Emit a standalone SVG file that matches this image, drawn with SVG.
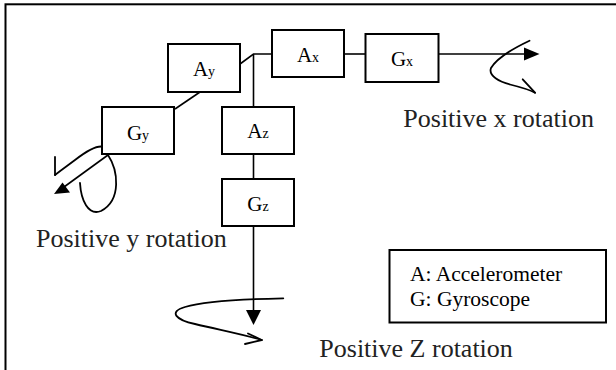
<svg xmlns="http://www.w3.org/2000/svg" width="616" height="370" viewBox="0 0 616 370">
<style>
.box{fill:#fff;stroke:#000;stroke-width:2}
.lbl{font-family:"Liberation Serif","Times New Roman",serif;font-size:21px;fill:#000;text-anchor:middle}
.sub{font-size:14px}
.big{font-family:"Liberation Serif","Times New Roman",serif;font-size:26px;fill:#222}
.leg{font-family:"Liberation Serif","Times New Roman",serif;font-size:21.5px;fill:#000}
.ln{fill:none;stroke:#000;stroke-width:1.6}
.cv{fill:none;stroke:#000;stroke-width:1.8;stroke-linecap:round;stroke-linejoin:round}
.ah{fill:#000}
</style>
<rect x="5.5" y="4.3" width="620" height="380" fill="#fff" stroke="#000" stroke-width="2"/>
<g id="connectors">
<polyline class="ln" points="240,64 253.5,54 272,54"/>
<line class="ln" x1="253.5" y1="54" x2="253.5" y2="107"/>
<line class="ln" x1="253.5" y1="154" x2="253.5" y2="179"/>
<line class="ln" x1="253.5" y1="226" x2="253.5" y2="312"/>
<polygon class="ah" points="246,310 261,310 253.5,325"/>
<line class="ln" x1="344" y1="54" x2="365" y2="54"/>
<line class="ln" x1="438" y1="54" x2="526" y2="54"/>
<polygon class="ah" points="524,47.5 524,60.5 539.5,54"/>
<line class="ln" x1="200" y1="92" x2="175" y2="109"/>
<line class="ln" x1="108" y1="155" x2="64" y2="187"/>
<polygon class="ah" points="54,194 62.5,182.5 70,192.5"/>
</g>
<g id="rot-x">
<path class="cv" d="M529.5,40.7 C514,48 497,58 491,68 C488,76 500,82 510,84.5 C520,87 530,90 535,92.7"/>
<line class="cv" x1="522.7" y1="79.3" x2="535" y2="92.7"/>
</g>
<g id="rot-y">
<path class="cv" d="M101.7,146.5 C94,146 84,153 75,160 C67,166 60,171 55,175"/>
<line class="cv" x1="55" y1="157" x2="55" y2="175"/>
<path class="cv" d="M108,155 C118,170 122,200 101,211 C88,216 81,200 80,183"/>
</g>
<g id="rot-z">
<path class="cv" d="M283.3,298.3 C250,299 205,301 185,307 C168,312 176,320 195,324 C220,330 245,335 261.7,340"/>
<line class="cv" x1="248" y1="333.5" x2="261.7" y2="340"/>
<line class="cv" x1="261.7" y1="340" x2="245" y2="344"/>
</g>
<g id="Ay"><rect class="box" x="168" y="44" width="72" height="48"/><text class="lbl" x="204" y="76">A<tspan class="sub">y</tspan></text></g>
<g id="Gy"><rect class="box" x="102" y="107" width="72" height="47"/><text class="lbl" x="138" y="140">G<tspan class="sub">y</tspan></text></g>
<g id="Az"><rect class="box" x="222" y="107" width="72" height="47"/><text class="lbl" x="258" y="138">A<tspan class="sub">z</tspan></text></g>
<g id="Gz"><rect class="box" x="222" y="179" width="72" height="47"/><text class="lbl" x="258" y="211">G<tspan class="sub">z</tspan></text></g>
<g id="Ax"><rect class="box" x="272" y="30" width="72" height="47"/><text class="lbl" x="308" y="61.5">A<tspan class="sub">x</tspan></text></g>
<g id="Gx"><rect class="box" x="365.5" y="34" width="73" height="48"/><text class="lbl" x="402" y="65.7">G<tspan class="sub">x</tspan></text></g>
<text class="big" x="403.3" y="127">Positive x rotation</text>
<text class="big" x="36" y="246.7">Positive y rotation</text>
<text class="big" x="319.3" y="357">Positive Z rotation</text>
<g id="legend">
<rect class="box" x="389.5" y="250" width="216.5" height="72.5"/>
<text class="leg" x="410" y="281">A: Accelerometer</text>
<text class="leg" x="410" y="306">G: Gyroscope</text>
</g>
</svg>
